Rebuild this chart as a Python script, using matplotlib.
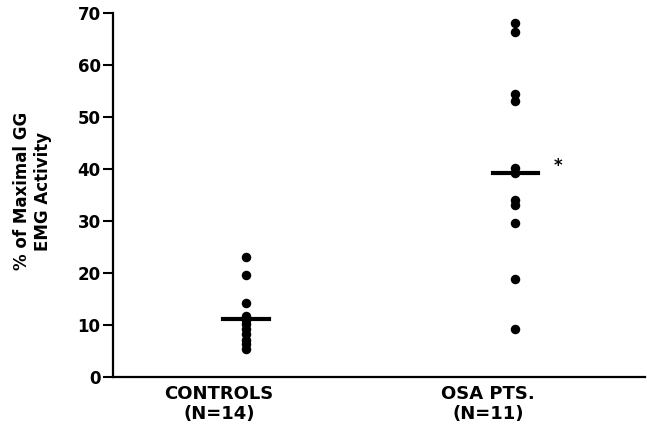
import numpy as np
import matplotlib.pyplot as plt

plt.rcParams['font.family'] = ['DejaVu Sans']
plt.rcParams['font.weight'] = 'bold'

# values (% of maximal GG EMG activity)
groups = ["CONTROLS\n(N=14)", "OSA PTS.\n(N=11)"]
controls = [23.1, 19.6, 14.3, 11.8, 11.4, 11.2, 11.1, 11.0, 10.2, 9.2, 8.2, 7.2, 6.3, 5.4]
osa = [68.0, 66.4, 54.4, 53.1, 40.2, 39.3, 34.0, 33.1, 29.7, 18.8, 9.2]
yticks = [0, 10, 20, 30, 40, 50, 60, 70]


def plot_scatter(values_list):
    fig = plt.figure(figsize=(6.47, 4.44), dpi=100)
    ax = fig.add_axes([0.1747, 0.151, 0.822, 0.8198])

    for i, vals in enumerate(values_list):
        ax.scatter([i] * len(vals), vals, s=34, color='black', zorder=3)
        med = np.median(vals)
        ax.plot([i - 0.084, i + 0.084], [med, med], color='black', lw=3, zorder=4)

    # significance marker next to OSA median
    ax.annotate('*', (1.16, np.median(osa)), xytext=(0, 5), textcoords='offset points',
                fontsize=12, fontweight='bold', ha='center', va='center')

    ax.set_xlim(-0.494, 1.482)
    ax.set_ylim(0, 70)
    ax.set_yticks(yticks)
    ax.set_xticks([i - 0.1 for i in range(len(groups))])
    ax.set_xticklabels(groups, fontsize=13, fontweight='bold', linespacing=1.1)
    ax.tick_params(axis='x', length=0, pad=6)
    ax.tick_params(axis='y', length=7, width=1.5, labelsize=12, pad=2)

    for side in ['top', 'right']:
        ax.spines[side].set_visible(False)
    for side in ['left', 'bottom']:
        ax.spines[side].set_linewidth(1.6)

    ax.set_ylabel("% of Maximal GG\nEMG Activity", fontsize=12, fontweight='bold',
                  linespacing=1.2)
    ax.yaxis.set_label_coords(-0.152, 0.51)
    ax.yaxis.label.set_verticalalignment('center')

    fig.savefig('out.png', dpi=100)


if __name__ == "__main__":
    plot_scatter([controls, osa])
